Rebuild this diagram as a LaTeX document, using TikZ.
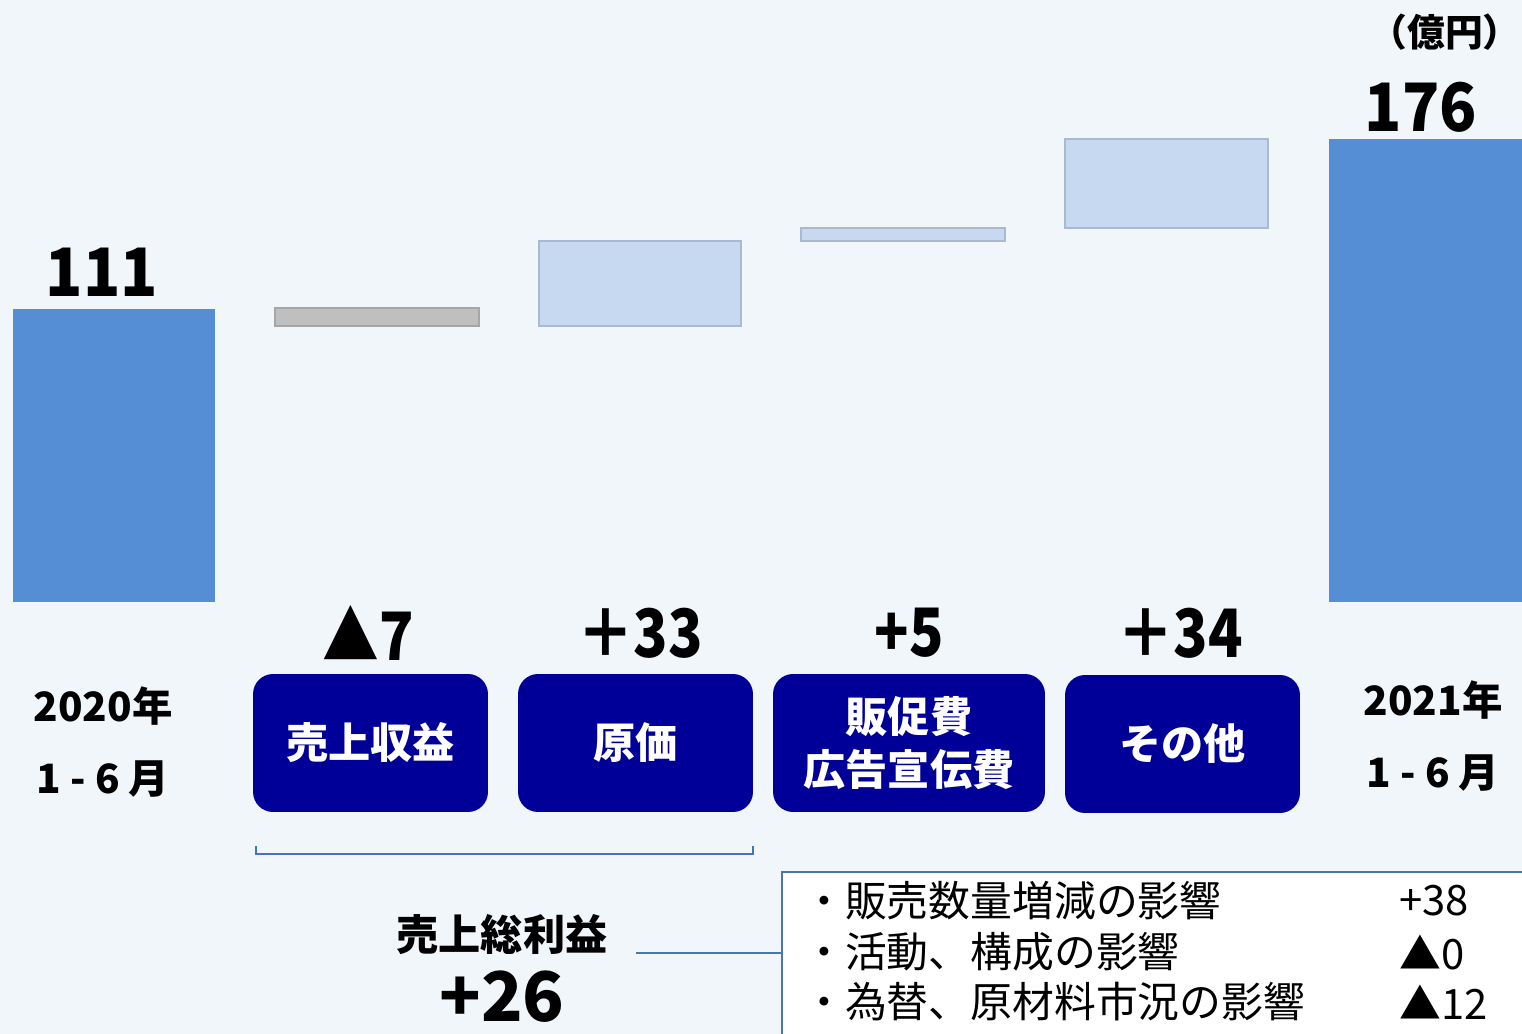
\documentclass[tikz,border=0pt]{standalone}
\usepackage{fontspec}
\setmainfont{Noto Sans CJK JP}
\definecolor{bgcol}{HTML}{F1F6FB}
\definecolor{barblue}{HTML}{558ED5}
\definecolor{lightbar}{HTML}{C6D9F1}
\definecolor{lightedge}{HTML}{A9B9CE}
\definecolor{graybar}{HTML}{BFBFBF}
\definecolor{grayedge}{HTML}{A6A6A6}
\definecolor{navy}{HTML}{000099}
\definecolor{bracketcol}{HTML}{4472C4}
\definecolor{tablecol}{HTML}{4A76A8}
\begin{document}
\begin{tikzpicture}[x=0.02cm,y=-0.02cm,
    diffbar/.style={fill=lightbar,draw=lightedge,line width=0.6pt},
    catbox/.style={fill=navy,rounded corners=0.4cm,minimum height=2.76cm,text=white,
        align=center,font=\fontsize{24}{30}\selectfont\bfseries},
    total/.style={font=\fontsize{38}{38}\selectfont\bfseries,xscale=0.92},
    delta/.style={font=\fontsize{38}{38}\selectfont\bfseries,xscale=0.85},
    period/.style={align=center,font=\fontsize{23}{41}\selectfont\bfseries},
    row/.style={anchor=west,font=\fontsize{23.8}{23.8}\selectfont,inner sep=0pt}]
    \useasboundingbox[fill=bgcol] (0,0) rectangle (1522,1034);
    \clip (0,0) rectangle (1522,1034);
    % bars
    \fill[barblue] (13,309) rectangle (215,602);
    \draw[fill=graybar,draw=grayedge,line width=0.6pt] (275,308) rectangle (479,326);
    \draw[diffbar] (539,241) rectangle (741,326);
    \draw[diffbar] (801,228) rectangle (1005,241);
    \draw[diffbar] (1065,139) rectangle (1268,228);
    \fill[barblue] (1329,139) rectangle (1530,602);
    \node[total] (v2020) at (102,272) {111};
    \node[total] (v2021) at (1421,107) {176};
    \node[font=\fontsize{21.5}{21.5}\selectfont\bfseries,inner sep=0pt,anchor=east] (unit) at (1521,32) {（億円）};
    % changes
    \node[delta] (dsales) at (368,633) {▲7};
    \node[delta] (dcost) at (640,633) {＋33};
    \node[delta] (dpromo) at (909,633) {+5};
    \node[delta] (dother) at (1180,633) {＋34};
    \node[catbox,minimum width=4.7cm] (sales) at (370.5,743) {売上収益};
    \node[catbox,minimum width=4.7cm] (cost) at (635.5,743) {原価};
    \node[catbox,minimum width=5.44cm] (promo) at (909,743) {販促費\\広告宣伝費};
    \node[catbox,minimum width=4.7cm] (other) at (1182.5,744) {その他};
    \node[period] (y2020) at (103,742) {2020年\\1 - 6 月};
    \node[period] (y2021) at (1433,736) {2021年\\1 - 6 月};
    % gross profit
    \draw[bracketcol,line width=1.5pt] (256,846) -- (256,854) -- (753,854) -- (753,846);
    \node[font=\fontsize{24}{24}\selectfont\bfseries] (gp) at (502,935) {売上総利益};
    \node[font=\fontsize{39}{39}\selectfont\bfseries] (gpval) at (502,997) {+26};
    \node[draw=tablecol,fill=white,line width=1.2pt,anchor=north west,
        minimum width=16cm,minimum height=4cm] (tbl) at (781,871) {};
    \coordinate (gpend) at (636,953);
    \draw[tablecol,line width=1.2pt] (gpend) -- (gpend -| tbl.west);
    \node[row] (r1) at (803,901) {・販売数量増減の影響};
    \node[row] (r2) at (803,952) {・活動、構成の影響};
    \node[row] (r3) at (803,1002) {・為替、原材料市況の影響};
    \node[row] (n1) at (1399,901) {+38};
    \node[row] (n2) at (1399,952) {▲0};
    \node[row] (n3) at (1399,1002) {▲12};
\end{tikzpicture}
\end{document}
